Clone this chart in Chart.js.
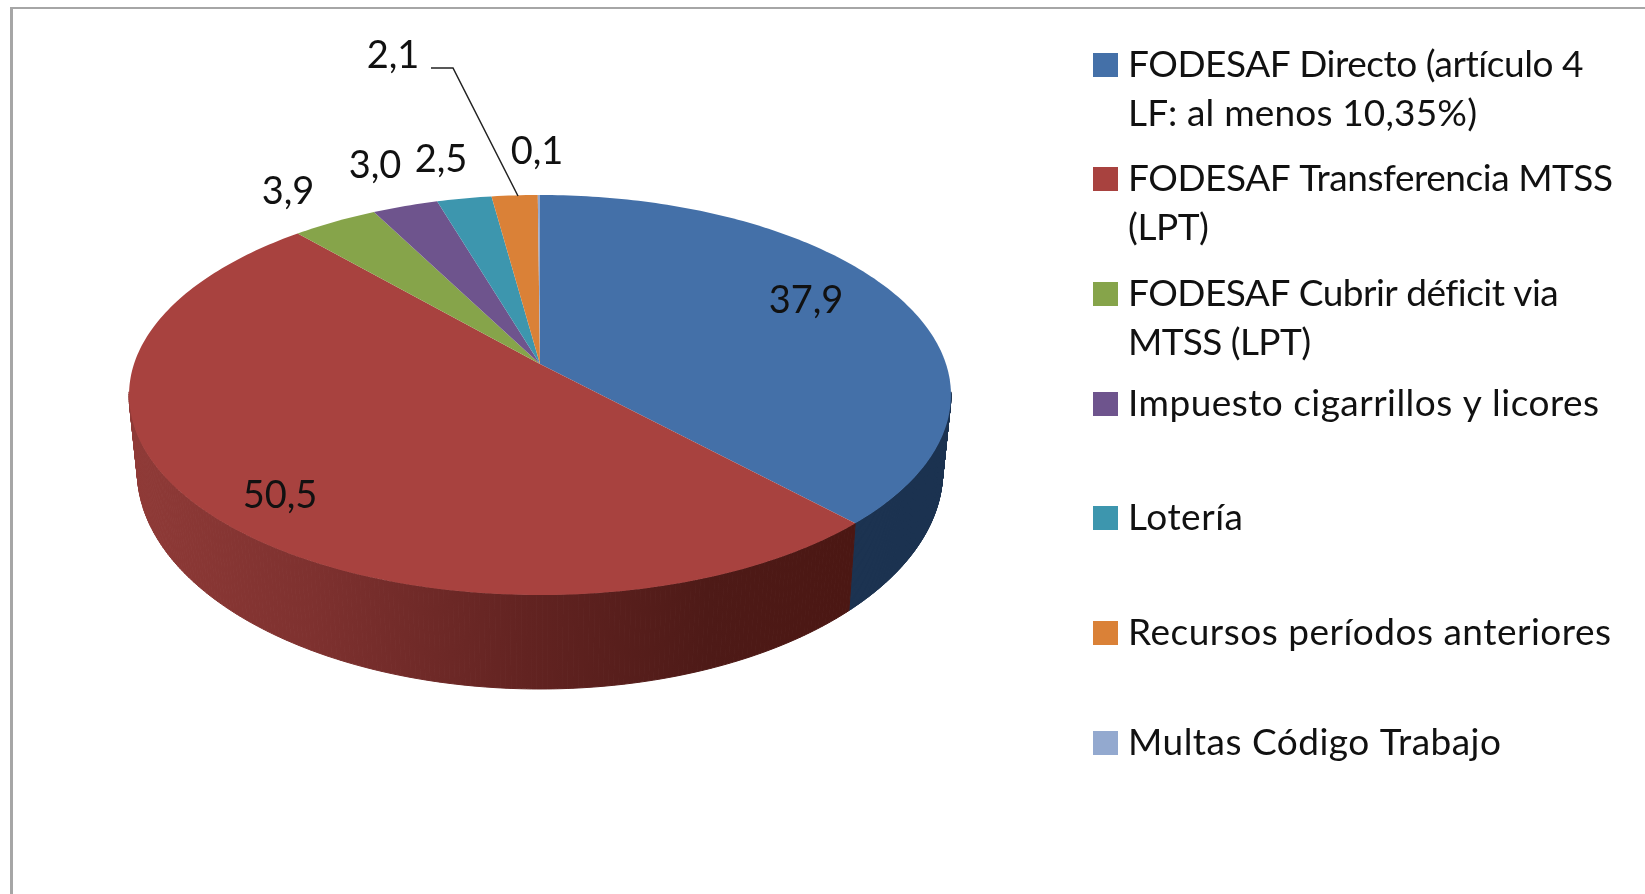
<!DOCTYPE html>
<html>
<head>
<meta charset="utf-8">
<style>
  html, body { margin: 0; background: #fff; overflow: hidden; }
  canvas { display: block; filter: blur(0.6px); }
</style>
<script src="https://cdn.jsdelivr.net/npm/chart.js@4"></script>
</head>
<body>
<canvas id="pieChart" width="1645" height="894"></canvas>
<script>
const categories = [
  'FODESAF Directo (artículo 4 LF: al menos 10,35%)',
  'FODESAF Transferencia MTSS (LPT)',
  'FODESAF Cubrir déficit via MTSS (LPT)',
  'Impuesto cigarrillos y licores',
  'Lotería',
  'Recursos períodos anteriores',
  'Multas Código Trabajo'
];
const legendLines = [
  ['FODESAF Directo (artículo 4', 'LF: al menos 10,35%)'],
  ['FODESAF Transferencia MTSS', '(LPT)'],
  ['FODESAF Cubrir déficit via', 'MTSS (LPT)'],
  ['Impuesto cigarrillos y licores'],
  ['Lotería'],
  ['Recursos períodos anteriores'],
  ['Multas Código Trabajo']
];
const values = [37.9, 50.5, 3.9, 3.0, 2.5, 2.1, 0.1];
const valueLabels = ['37,9', '50,5', '3,9', '3,0', '2,5', '2,1', '0,1'];
const colors = ['#4470a8', '#a8423f', '#86a44a', '#6e548d', '#3d96ae', '#da8137', '#93a9cf'];

// layout of the tilted pie
const cx = 540, cy = 364, rx = 406, ry = 195.2, tilt = 0.155, depth = 73;
const labelPos = [[806, 301], [280, 496], [288, 192], [375, 166], [441, 160], [393, 56], [537, 152]];
const legendY = [65, 179, 294, 404, 518, 633, 743];
const legendWidths = [[456, 349], [485, 81], [430, 183], [471], [115], [483], [373]];
const lineGap = 49;

function top3d(a) {
  const u = Math.cos(a), v = Math.sin(a), s = 1 / (1 - tilt * v);
  return [cx + rx * u * s, cy + ry * v * s];
}
function bottom3d(a) {
  const v = Math.sin(a), s = 1 / (1 - tilt * v), p = top3d(a);
  return [cx + (p[0] - cx) * 0.98, p[1] + depth * Math.pow(s, 1.5)];
}

function sideFill(ctx, i) {
  if (i !== 1) return '#1b3250';
  const g = ctx.createLinearGradient(135, 0, 850, 0);
  g.addColorStop(0, '#8f3a37');
  g.addColorStop(0.25, '#7e312f');
  g.addColorStop(0.55, '#622321');
  g.addColorStop(0.8, '#4e1a17');
  g.addColorStop(1, '#4b1713');
  return g;
}

// text stretched to the width it has in the picture
function spacedText(ctx, t, x, y, w) {
  ctx.letterSpacing = '0px';
  const extra = (w - ctx.measureText(t).width) / Math.max(1, t.length - 1);
  ctx.letterSpacing = extra.toFixed(2) + 'px';
  ctx.fillText(t, x, y);
  ctx.letterSpacing = '0px';
}

const tiltedPie = {
  id: 'tiltedPie',
  beforeDatasetDraw(chart) {
    const ctx = chart.ctx;
    const arcs = chart.getDatasetMeta(0).data;
    ctx.save();

    // frame
    ctx.fillStyle = '#a6a6a6';
    ctx.fillRect(10, 7, 1635, 2);
    ctx.fillRect(10, 7, 3, 887);

    // rim of the slices facing the viewer, one strip at a time
    arcs.forEach((arc, i) => {
      const from = Math.max(arc.startAngle, 0.14);
      const to = Math.min(arc.endAngle, Math.PI - 0.14);
      if (to <= from) return;
      ctx.fillStyle = ctx.strokeStyle = sideFill(ctx, i);
      ctx.lineWidth = 1;
      const n = 200;
      for (let k = 0; k < n; k++) {
        const a0 = from + (to - from) * k / n, a1 = from + (to - from) * (k + 1) / n;
        const p0 = top3d(a0), p1 = top3d(a1), q1 = bottom3d(a1), q0 = bottom3d(a0);
        ctx.beginPath();
        ctx.moveTo(p0[0], p0[1]);
        ctx.lineTo(p1[0], p1[1]);
        ctx.lineTo(q1[0], q1[1]);
        ctx.lineTo(q0[0], q0[1]);
        ctx.closePath();
        ctx.fill();
        ctx.stroke();
      }
    });

    // top face
    arcs.forEach(arc => {
      ctx.beginPath();
      ctx.moveTo(cx, cy);
      const n = Math.max(2, Math.ceil((arc.endAngle - arc.startAngle) * 60));
      for (let k = 0; k <= n; k++) {
        const p = top3d(arc.startAngle + (arc.endAngle - arc.startAngle) * k / n);
        ctx.lineTo(p[0], p[1]);
      }
      ctx.closePath();
      ctx.fillStyle = arc.options.backgroundColor;
      ctx.fill();
    });

    // leader line for 2,1
    ctx.strokeStyle = '#222';
    ctx.lineWidth = 1.5;
    ctx.beginPath();
    ctx.moveTo(431, 68);
    ctx.lineTo(453, 68);
    ctx.lineTo(518, 196);
    ctx.stroke();

    // value labels
    ctx.fillStyle = '#111';
    ctx.textAlign = 'center';
    ctx.textBaseline = 'middle';
    ctx.font = '38px Lato';
    valueLabels.forEach((t, i) => ctx.fillText(t, labelPos[i][0], labelPos[i][1]));

    // legend
    ctx.textAlign = 'left';
    ctx.font = '37px Lato';
    legendLines.forEach((lines, i) => {
      ctx.fillStyle = colors[i];
      ctx.fillRect(1093, legendY[i] - 12, 25, 24);
      ctx.fillStyle = '#111';
      lines.forEach((t, j) => spacedText(ctx, t, 1128, legendY[i] + j * lineGap, legendWidths[i][j]));
    });

    ctx.restore();
    return false;
  }
};

new Chart(document.getElementById('pieChart'), {
  type: 'pie',
  data: {
    labels: categories,
    datasets: [{
      data: values,
      backgroundColor: colors,
      borderWidth: 0
    }]
  },
  options: {
    responsive: false,
    animation: false,
    plugins: {
      legend: { display: false },
      tooltip: { enabled: false }
    }
  },
  plugins: [tiltedPie]
});
</script>
</body>
</html>
